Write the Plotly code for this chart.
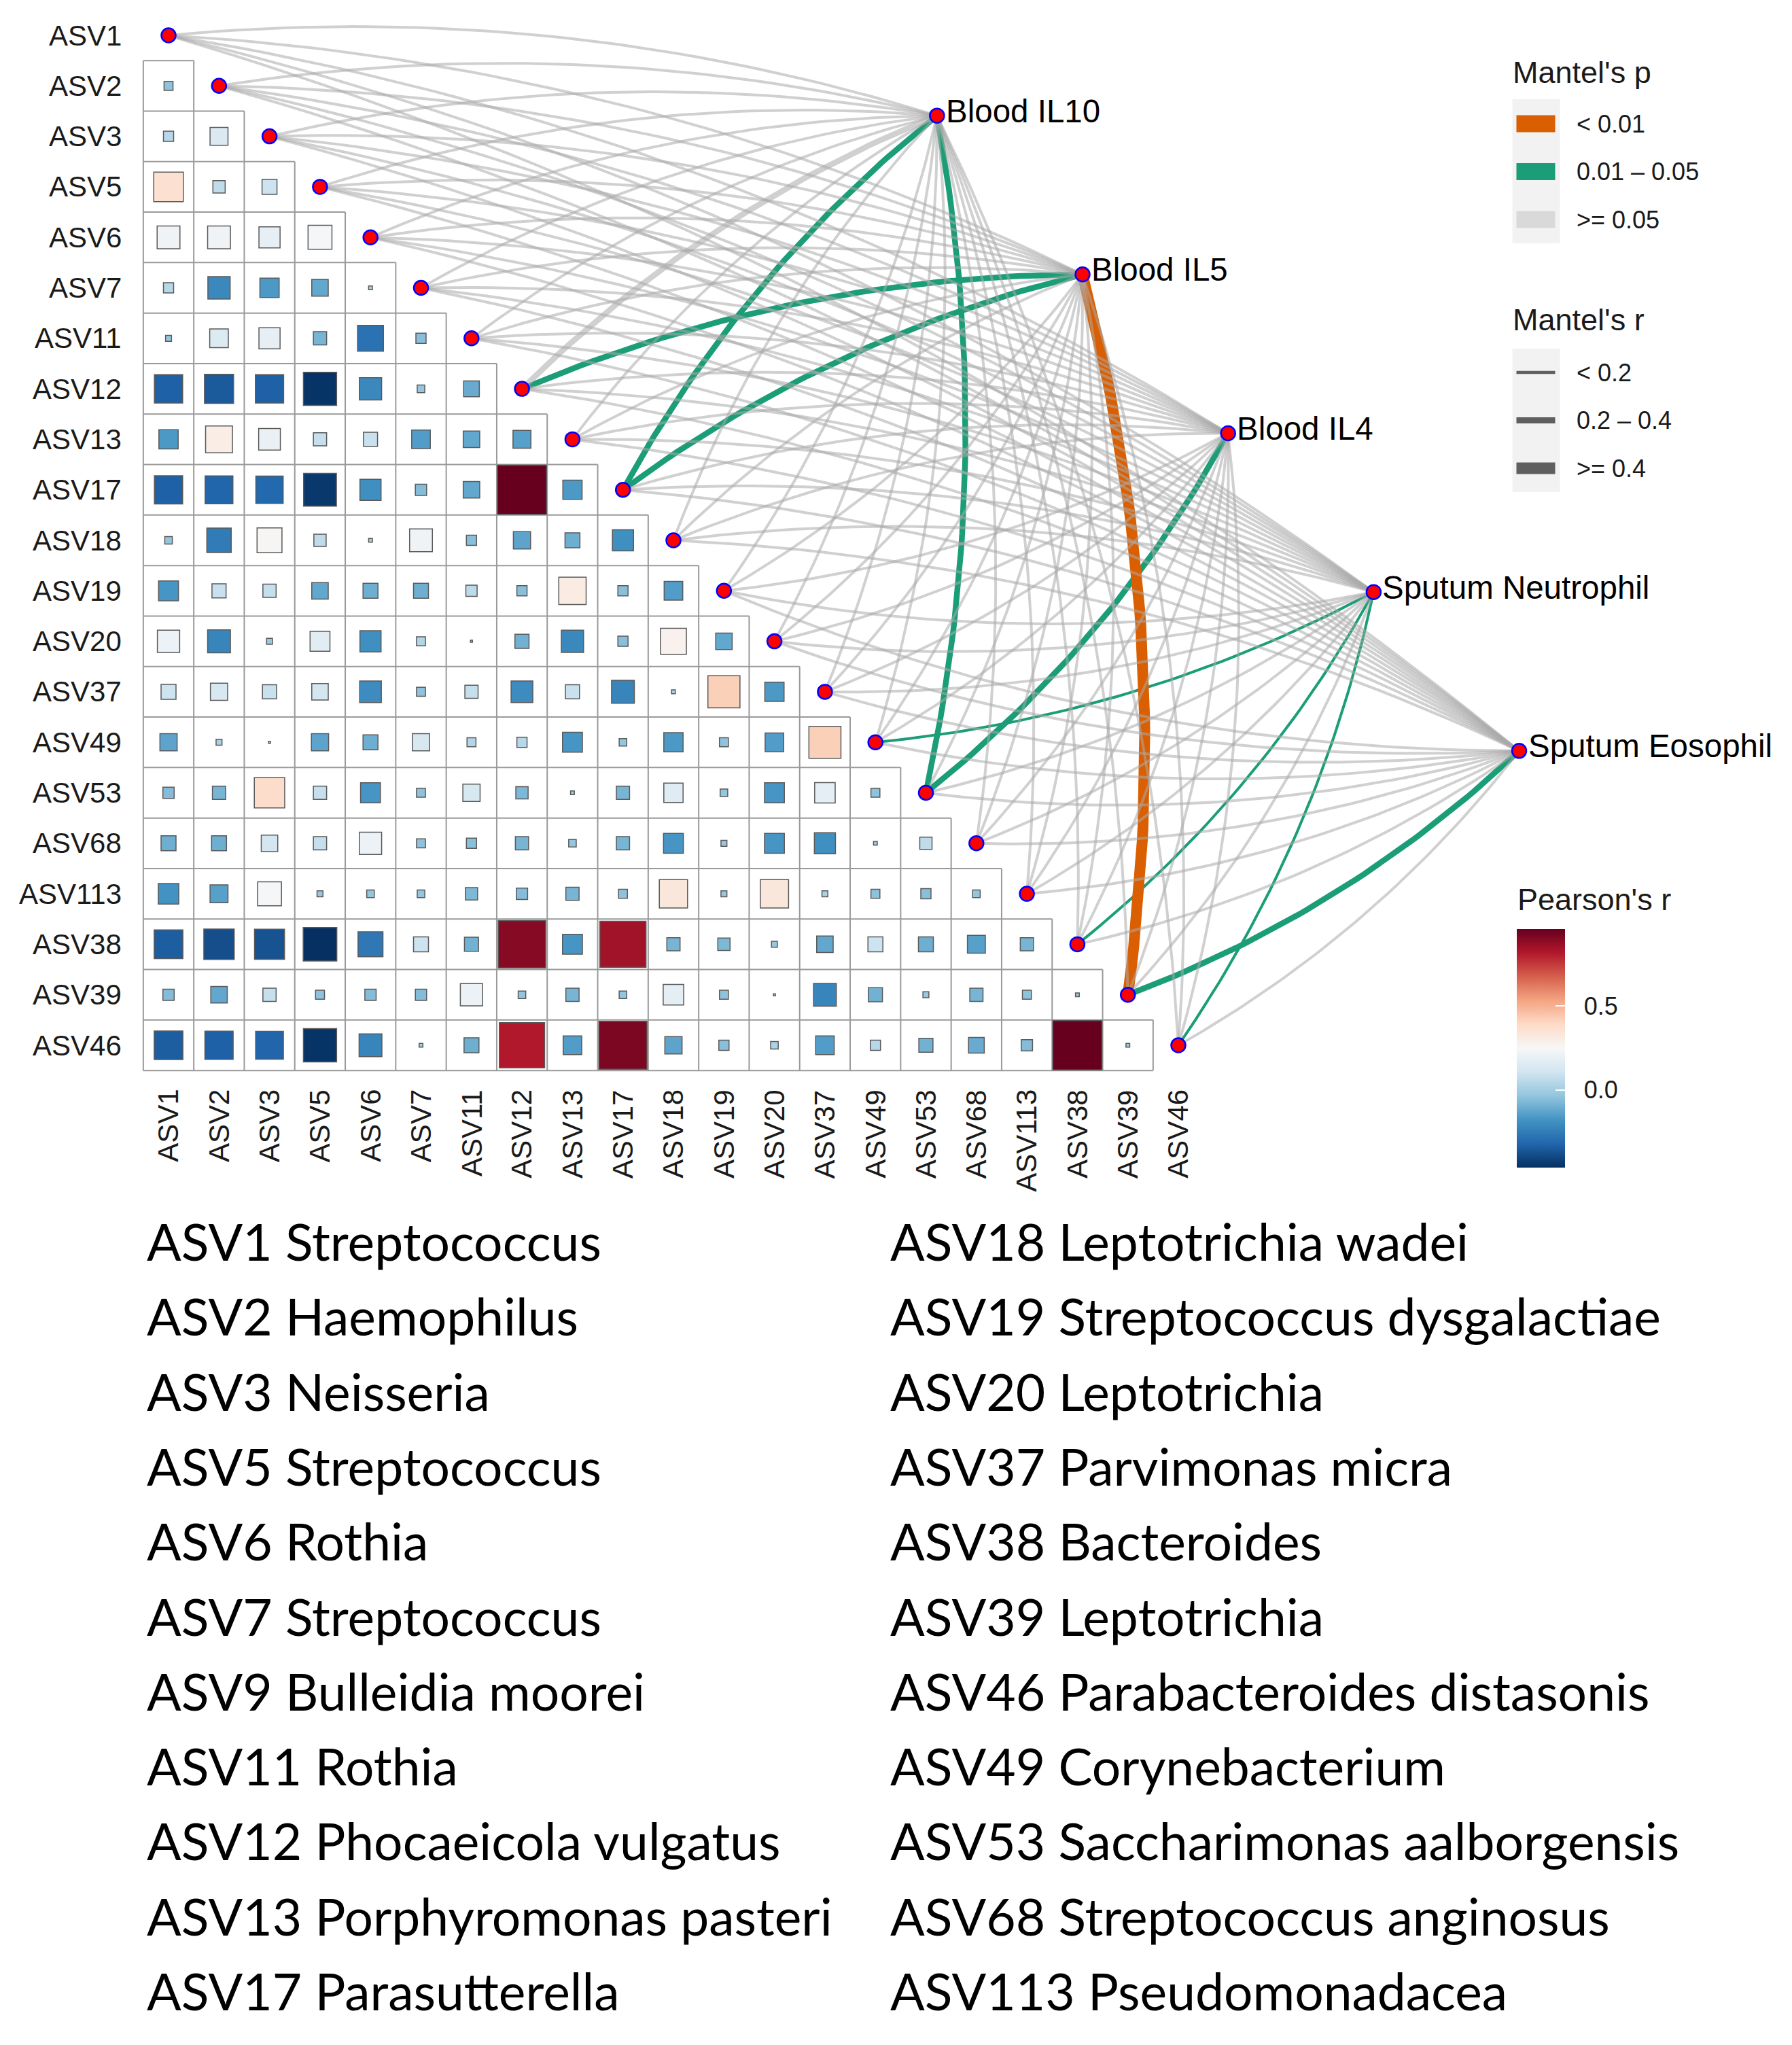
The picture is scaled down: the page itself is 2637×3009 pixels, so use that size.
import numpy as np
import plotly.graph_objects as go

# ---------------- data ----------------
asv = ["ASV1", "ASV2", "ASV3", "ASV5", "ASV6", "ASV7", "ASV11", "ASV12", "ASV13", "ASV17",
       "ASV18", "ASV19", "ASV20", "ASV37", "ASV49", "ASV53", "ASV68", "ASV113", "ASV38",
       "ASV39", "ASV46"]

# lower-triangle Pearson's r; row i holds r(asv[i], asv[j]) for j < i
r_rows = [
    [],
    [-0.04],
    [0.05, 0.14],
    [0.36, 0.07, 0.10],
    [0.22, 0.22, 0.19, 0.24],
    [0.05, -0.21, -0.16, -0.12, 0.01],
    [-0.02, 0.15, 0.19, -0.08, -0.28, -0.05],
    [-0.33, -0.35, -0.33, -0.45, -0.21, -0.03, -0.11],
    [-0.16, 0.30, 0.20, 0.08, 0.09, -0.15, -0.12, -0.14],
    [-0.33, -0.32, -0.31, -0.44, -0.19, -0.06, -0.12, 0.96, -0.16],
    [-0.03, -0.25, 0.26, 0.07, 0.01, 0.22, -0.05, -0.13, -0.10, -0.19],
    [-0.17, 0.09, 0.08, -0.12, -0.10, -0.10, 0.06, -0.05, 0.31, -0.05, -0.15],
    [0.21, -0.22, -0.02, 0.17, -0.19, 0.04, 0.00, -0.09, -0.21, -0.05, 0.28, -0.12],
    [0.10, 0.13, 0.09, 0.12, -0.20, -0.04, 0.08, -0.20, 0.09, -0.22, 0.01, 0.42, -0.16],
    [-0.13, 0.02, 0.00, -0.13, -0.10, 0.13, 0.04, 0.05, -0.17, -0.03, -0.16, -0.04, -0.15, 0.42],
    [-0.06, -0.08, 0.38, 0.08, -0.17, -0.04, 0.13, -0.07, -0.01, -0.08, 0.16, -0.03, -0.17, 0.18, -0.04],
    [-0.10, -0.10, 0.12, 0.08, 0.21, -0.04, -0.05, -0.08, -0.03, -0.08, -0.17, -0.02, -0.17, -0.19, -0.01, 0.07],
    [-0.18, -0.14, 0.24, -0.02, -0.03, -0.03, -0.07, -0.06, -0.08, -0.04, 0.33, -0.02, 0.33, 0.02, -0.04, -0.05, -0.03],
    [-0.34, -0.38, -0.37, -0.46, -0.26, 0.10, -0.09, 0.90, -0.17, 0.85, -0.08, -0.07, -0.02, -0.12, 0.10, -0.10, -0.14, -0.08],
    [-0.06, -0.12, 0.08, -0.04, -0.06, -0.06, 0.21, -0.03, -0.08, -0.03, 0.18, -0.04, 0.00, -0.22, -0.09, -0.02, -0.08, -0.04, -0.01],
    [-0.34, -0.33, -0.32, -0.45, -0.22, -0.01, -0.10, 0.82, -0.15, 0.92, -0.13, -0.05, 0.03, -0.15, 0.05, -0.09, -0.11, -0.06, 0.96, -0.01],
]

env_names = ["Blood IL10", "Blood IL5", "Blood IL4", "Sputum Neutrophil", "Sputum Eosophil"]

# Mantel's p class per env x ASV: 0 "< 0.01", 1 "0.01 - 0.05", 2 ">= 0.05"
p_labels = ["< 0.01", "0.01 \u2013 0.05", ">= 0.05"]
mantel_p = [
    [2, 2, 2, 2, 2, 2, 2, 2, 2, 1, 2, 2, 2, 2, 2, 1, 2, 2, 2, 2, 2],
    [2, 2, 2, 2, 2, 2, 2, 1, 2, 1, 2, 2, 2, 2, 2, 2, 2, 2, 2, 0, 2],
    [2, 2, 2, 2, 2, 2, 2, 2, 2, 2, 2, 2, 2, 2, 2, 1, 2, 2, 2, 2, 2],
    [2, 2, 2, 2, 2, 2, 2, 2, 2, 2, 2, 2, 2, 2, 1, 2, 2, 2, 1, 2, 1],
    [2, 2, 2, 2, 2, 2, 2, 2, 2, 2, 2, 2, 2, 2, 2, 2, 2, 2, 2, 1, 2],
]
# Mantel's r class per env x ASV: 0 "< 0.2", 1 "0.2 - 0.4", 2 ">= 0.4"
r_labels = ["< 0.2", "0.2 \u2013 0.4", ">= 0.4"]
mantel_r = [
    [0, 0, 0, 0, 0, 0, 0, 1, 0, 1, 0, 0, 0, 0, 0, 1, 0, 0, 0, 0, 0],
    [0, 0, 0, 0, 0, 0, 0, 1, 0, 1, 0, 0, 0, 0, 0, 0, 0, 0, 0, 2, 0],
    [0, 0, 0, 0, 0, 0, 0, 0, 0, 0, 0, 0, 0, 0, 0, 1, 0, 0, 0, 0, 0],
    [0, 0, 0, 0, 0, 0, 0, 0, 0, 0, 0, 0, 0, 0, 0, 0, 0, 0, 0, 0, 0],
    [0, 0, 0, 0, 0, 0, 0, 0, 0, 0, 0, 0, 0, 0, 0, 0, 0, 0, 0, 1, 0],
]

taxa_left = ["ASV1 Streptococcus", "ASV2 Haemophilus", "ASV3 Neisseria", "ASV5 Streptococcus",
             "ASV6 Rothia", "ASV7 Streptococcus", "ASV9 Bulleidia moorei", "ASV11 Rothia",
             "ASV12 Phocaeicola vulgatus", "ASV13 Porphyromonas pasteri", "ASV17 Parasutterella"]
taxa_right = ["ASV18 Leptotrichia wadei", "ASV19 Streptococcus dysgalactiae", "ASV20 Leptotrichia",
              "ASV37 Parvimonas micra", "ASV38 Bacteroides", "ASV39 Leptotrichia",
              "ASV46 Parabacteroides distasonis", "ASV49 Corynebacterium",
              "ASV53 Saccharimonas aalborgensis", "ASV68 Streptococcus anginosus",
              "ASV113 Pseudomonadacea"]

# ---------------- styling / layout constants ----------------
W, H = 2637, 3009
CELL = 74.3            # px per matrix cell
X0_PX, Y0_PX = 248, 52  # pixel of first diagonal node
AX_FONT = "Liberation Sans, Arial, sans-serif"
P_COLORS = ["#D95F02", "#1B9E77", "rgba(170,170,170,0.55)"]
P_KEY_COLORS = ["#D95F02", "#1B9E77", "#D9D9D9"]
R_WIDTHS = [4, 8.5, 16]
RDBU = ["#053061", "#2166AC", "#4393C3", "#92C5DE", "#D1E5F0", "#F7F7F7",
        "#FDDBC7", "#F4A582", "#D6604D", "#B2182B", "#67001F"]
colorscale = [[i / (len(RDBU) - 1), c] for i, c in enumerate(RDBU)]

n = len(asv)
env_start = (15.22, 1.59)
env_end = (26.75, 14.17)
env_x = np.linspace(env_start[0], env_end[0], len(env_names))
env_y = np.linspace(env_start[1], env_end[1], len(env_names))


def pxx(p):
    return p / W


def pxy(p):
    return 1 - p / H


fig = go.Figure()

# ---------------- heatmap squares ----------------
cx, cy, cv = [], [], []
for i, row in enumerate(r_rows):
    for j, v in enumerate(row):
        cx.append(j)
        cy.append(i)
        cv.append(v)
cv = np.array(cv)
rmax = np.abs(cv).max()
cmin, cmax = cv.min(), cv.max()
sizes = np.maximum(CELL * np.sqrt(np.abs(cv) / rmax) - 2, 3)

# grid lines (staircase)
gx, gy = [], []
for m in range(1, n + 1):
    yv = m - 0.5
    xe = m - 0.5 if m < n else n - 1.5
    gx += [-0.5, xe, None]
    gy += [yv, yv, None]
for k in range(0, n):
    xv = k - 0.5
    ys = 0.5 if k == 0 else k - 0.5
    gx += [xv, xv, None]
    gy += [ys, n - 0.5, None]
fig.add_trace(go.Scatter(x=gx, y=gy, mode="lines", line=dict(color="#9a9a9a", width=2),
                         hoverinfo="skip", showlegend=False))

NB = "\u00a0"
fig.add_trace(go.Scatter(
    x=cx, y=cy, mode="markers", showlegend=False,
    marker=dict(symbol="square", size=sizes, color=cv, colorscale=colorscale,
                cmin=cmin, cmax=cmax, opacity=1,
                line=dict(color="#5a5a5a", width=1.5),
                colorbar=dict(
                    x=pxx(2232), xanchor="left", xpad=0,
                    y=pxy(1717.5), yanchor="bottom", ypad=0,
                    len=351, lenmode="pixels", thickness=71, thicknessmode="pixels",
                    outlinewidth=0, tickvals=[0, 0.5],
                    ticktext=[NB * 2 + "0.0", NB * 2 + "0.5"],
                    ticks="inside", ticklen=14, tickwidth=2, tickcolor="white",
                    tickfont=dict(family=AX_FONT, size=36, color="#1a1a1a"),
                )),
    text=[f"{asv[i]} vs {asv[j]}: {v:.2f}" for i, j, v in zip(cy, cx, cv)],
    hoverinfo="text"))

# ---------------- Mantel edges ----------------
CURV = 0.1


def curve(ex, ey, ax_, ay_, lower, npts=48):
    dx, dy = ax_ - ex, ay_ - ey
    L = np.hypot(dx, dy)
    if lower:
        qx, qy = dy, -dx
    else:
        qx, qy = -dy, dx
    q = np.hypot(qx, qy)
    mx = (ex + ax_) / 2 + qx / q * CURV * L
    my = (ey + ay_) / 2 + qy / q * CURV * L
    t = np.linspace(0, 1, npts)
    xs = (1 - t) ** 2 * ex + 2 * t * (1 - t) * mx + t ** 2 * ax_
    ys = (1 - t) ** 2 * ey + 2 * t * (1 - t) * my + t ** 2 * ay_
    return list(xs), list(ys)


groups = {}
for e in range(len(env_names)):
    for k in range(n):
        key = (mantel_p[e][k], mantel_r[e][k])
        xs, ys = curve(env_x[e], env_y[e], k, k, k > 10)
        gxs, gys = groups.setdefault(key, ([], []))
        gxs += xs + [None]
        gys += ys + [None]

# coloured (significant) edges first, non-significant grey drawn over them
order = sorted(groups.keys(), key=lambda kk: (kk[0] == 2, kk[1]))
for key in order:
    xs, ys = groups[key]
    fig.add_trace(go.Scatter(x=xs, y=ys, mode="lines", hoverinfo="skip", showlegend=False,
                             line=dict(color=P_COLORS[key[0]], width=R_WIDTHS[key[1]])))

# ---------------- nodes ----------------
node_marker = dict(symbol="circle", size=21, color="#FF0000", opacity=1,
                   line=dict(color="#0000FF", width=2.5))
fig.add_trace(go.Scatter(x=list(range(n)), y=list(range(n)), mode="markers", marker=node_marker,
                         text=asv, hoverinfo="text", showlegend=False))
fig.add_trace(go.Scatter(x=env_x, y=env_y, mode="markers", marker=node_marker,
                         text=env_names, hoverinfo="text", showlegend=False))

annotations = []
# row labels
for i, name in enumerate(asv):
    annotations.append(dict(x=-0.5, y=i, xref="x", yref="y", text=name, showarrow=False,
                            xanchor="right", yanchor="middle", xshift=-30,
                            font=dict(family=AX_FONT, size=42, color="#1a1a1a")))
# column labels
for j, name in enumerate(asv):
    annotations.append(dict(x=j, y=n - 0.5, xref="x", yref="y", text=name, showarrow=False,
                            textangle=-90, xanchor="center", yanchor="top", yshift=-26,
                            font=dict(family=AX_FONT, size=42, color="#1a1a1a")))
# env labels
for e, name in enumerate(env_names):
    annotations.append(dict(x=env_x[e], y=env_y[e], xref="x", yref="y", text=name,
                            showarrow=False, xanchor="left", yanchor="middle",
                            xshift=11, yshift=7,
                            font=dict(family=AX_FONT, size=47.5, color="#000000")))

shapes = []
# ---------------- Mantel's p legend ----------------
annotations.append(dict(x=pxx(2224), y=pxy(106), xref="paper", yref="paper", text="Mantel's p",
                        showarrow=False, xanchor="left", yanchor="middle",
                        font=dict(family=AX_FONT, size=45, color="#1a1a1a")))
shapes.append(dict(type="rect", xref="paper", yref="paper", x0=pxx(2225.5), x1=pxx(2295.5),
                   y0=pxy(146), y1=pxy(358), fillcolor="#F2F2F2", line=dict(width=0),
                   layer="below"))
for c, (lab, col) in enumerate(zip(p_labels, P_KEY_COLORS)):
    yc = 182 + c * 70.5
    shapes.append(dict(type="rect", xref="paper", yref="paper", x0=pxx(2231.5), x1=pxx(2288.5),
                       y0=pxy(yc - 12.5), y1=pxy(yc + 12.5), fillcolor=col, line=dict(width=0)))
    annotations.append(dict(x=pxx(2318), y=pxy(yc), xref="paper", yref="paper", text=lab,
                            showarrow=False, xanchor="left", yanchor="middle",
                            font=dict(family=AX_FONT, size=36, color="#1a1a1a")))

# ---------------- Mantel's r legend ----------------
annotations.append(dict(x=pxx(2224), y=pxy(470), xref="paper", yref="paper", text="Mantel's r",
                        showarrow=False, xanchor="left", yanchor="middle",
                        font=dict(family=AX_FONT, size=45, color="#1a1a1a")))
shapes.append(dict(type="rect", xref="paper", yref="paper", x0=pxx(2225.5), x1=pxx(2295.5),
                   y0=pxy(513), y1=pxy(724), fillcolor="#F2F2F2", line=dict(width=0),
                   layer="below"))
LEG_R_W = [4.5, 9, 17]
for c, lab in enumerate(r_labels):
    yc = 548 + c * 70.5
    shapes.append(dict(type="line", xref="paper", yref="paper", x0=pxx(2231.5), x1=pxx(2288.5),
                       y0=pxy(yc), y1=pxy(yc), line=dict(color="#5f5f5f", width=LEG_R_W[c])))
    annotations.append(dict(x=pxx(2318), y=pxy(yc), xref="paper", yref="paper", text=lab,
                            showarrow=False, xanchor="left", yanchor="middle",
                            font=dict(family=AX_FONT, size=36, color="#1a1a1a")))

# ---------------- Pearson's r title ----------------
annotations.append(dict(x=pxx(2231), y=pxy(1323), xref="paper", yref="paper", text="Pearson's r",
                        showarrow=False, xanchor="left", yanchor="middle",
                        font=dict(family=AX_FONT, size=45, color="#1a1a1a")))

# ---------------- taxonomy list ----------------
TAX_FONT = "Lato, Carlito, Calibri, sans-serif"
for i, (lt, rt) in enumerate(zip(taxa_left, taxa_right)):
    yp = 1826 + i * 110.3
    annotations.append(dict(x=pxx(214), y=pxy(yp), xref="paper", yref="paper", text=lt,
                            showarrow=False, xanchor="left", yanchor="middle",
                            font=dict(family=TAX_FONT, size=75, color="#000000")))
    annotations.append(dict(x=pxx(1308), y=pxy(yp), xref="paper", yref="paper", text=rt,
                            showarrow=False, xanchor="left", yanchor="middle",
                            font=dict(family=TAX_FONT, size=75, color="#000000")))

fig.update_layout(
    width=W, height=H,
    margin=dict(l=0, r=0, t=0, b=0),
    paper_bgcolor="white", plot_bgcolor="white",
    xaxis=dict(range=[-X0_PX / CELL, (W - X0_PX) / CELL], visible=False, fixedrange=True),
    yaxis=dict(range=[(H - Y0_PX) / CELL, -Y0_PX / CELL], visible=False, fixedrange=True),
    annotations=annotations, shapes=shapes,
    showlegend=False, hovermode="closest",
)

fig.write_html("out.html", config={"displayModeBar": False},
               post_script="document.body.style.margin='0';document.body.style.overflow='hidden';")
